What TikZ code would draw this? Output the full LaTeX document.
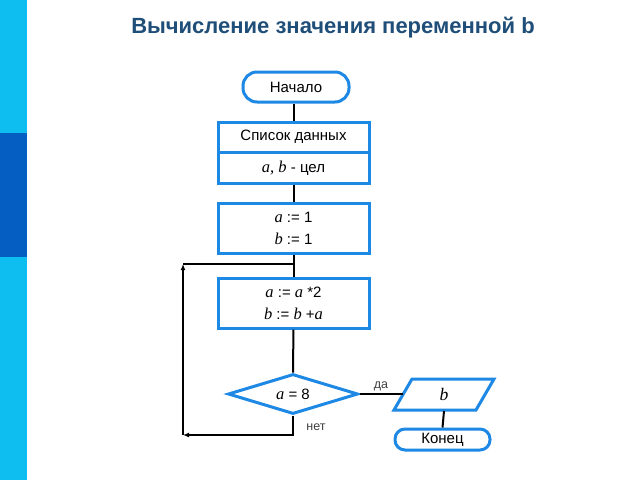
\documentclass[tikz,border=0pt]{standalone}
\usepackage{fontspec}
\setmainfont{Liberation Sans}
\newfontfamily\serifit{Liberation Serif}[Scale=1.1]
\usetikzlibrary{shapes.geometric,arrows.meta}
\definecolor{bl}{HTML}{1E88E5}
\definecolor{ttl}{HTML}{1F4E79}
\newcommand{\vv}[1]{{\serifit\itshape #1}}
\begin{document}
\begin{tikzpicture}[x=1pt,y=-1pt,
  blk/.style={draw=bl,line width=3pt,fill=white,minimum width=151pt,font=\fontsize{15}{22}\selectfont,align=center,inner sep=0pt},
  term/.style={blk,rounded corners=14pt},
  ln/.style={draw=black,line width=2pt},
  lbl/.style={font=\fontsize{12.5}{14}\selectfont,text=black!75}]
\useasboundingbox (0,0) rectangle (640,480);
\fill[white] (0,0) rectangle (640,480);
\fill[color={rgb,255:red,14;green,190;blue,240}] (0,0) rectangle (27,480);
\fill[color={rgb,255:red,5;green,95;blue,195}] (0,133) rectangle (27,257);
\node[font=\bfseries\fontsize{22}{24}\selectfont,text=ttl] (title) at (333,28) {Вычисление значения переменной b};
\node[term,minimum width=106pt,minimum height=30pt] (start) at (296,87) {Начало};
\node[blk,minimum height=30pt] (list) at (293.5,137) {Список данных};
\node[blk,minimum height=31pt] (vars) at (293.5,168) {\vv{a, b} - цел};
\node[blk,minimum height=50pt] (init) at (293.5,228) {\vv{a} := 1\\ \vv{b} := 1};
\node[blk,minimum height=50pt] (body) at (293.5,303) {\vv{a} := \vv{a} *2\\ \vv{b} := \vv{b} +\vv{a}};
\node[draw=bl,line width=3pt,diamond,aspect=3.25,minimum width=130pt,minimum height=40pt,inner sep=0pt,font=\fontsize{15}{16}\selectfont] (cond) at (293,394) {\vv{a} = 8};
\node[inner sep=0pt,minimum width=75pt,minimum height=31pt,font=\fontsize{16}{16}\selectfont] (out) at (444,394.5) {\vv{b}};
\draw[bl,line width=3pt,line join=miter] (412,379) -- (494,379) -- (476,410) -- (394,410) -- cycle;
\node[term,minimum width=95pt,minimum height=21pt,rounded corners=10pt] (end) at (442.5,439.5) {Конец};
\coordinate (j) at (293,264);
\coordinate (bl) at (183,435);
\coordinate (br) at (293,435);
\coordinate (tl) at (183,264);
\draw[ln] (list.north |- start.south) -- (list.north);
\draw[ln] (vars) -- (init);
\draw[ln] (init) -- (body);
\draw[ln] (body) -- (cond);
\draw[ln,-{Latex[length=6pt,width=5pt]}] (cond.south) -- (br) -- (bl);
\draw[ln,-{Latex[length=6pt,width=5pt]}] (bl) -- (tl);
\draw[ln] (tl) -- (j);
\draw[ln] (cond.east) -- (403,394);
\draw[ln] (444,411) -- (end.north);
\node[lbl] (da) at (381,386) {да};
\node[lbl] (net) at (316,427) {нет};
\end{tikzpicture}
\end{document}
